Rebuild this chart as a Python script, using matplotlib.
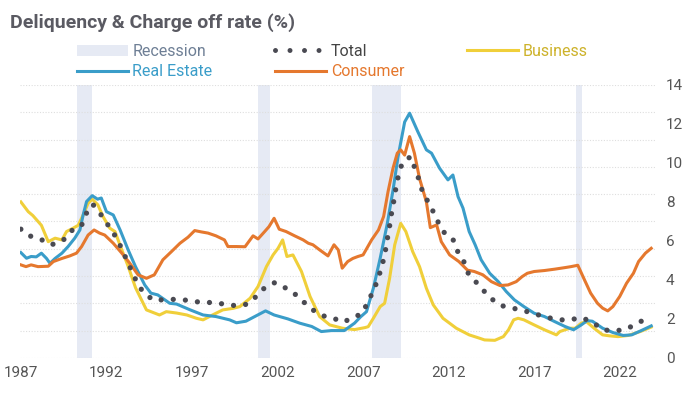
import numpy as np
import matplotlib.pyplot as plt
from matplotlib.patches import Patch
from matplotlib.lines import Line2D

plt.rcParams['font.family'] = ['Roboto', 'DejaVu Sans']

# recession periods (start, end)
recessions = [(1990.3, 1991.15), (2000.85, 2001.55), (2007.5, 2009.2), (2019.45, 2019.8)]

business_x = [1987.0, 1987.43, 1987.7, 1988.2, 1988.6, 1989.0, 1989.4, 1989.67, 1990.05, 1990.35,
              1990.64, 1990.93, 1991.17, 1991.5, 1991.8, 1992.2, 1992.5, 1992.9, 1993.27, 1993.7,
              1994.34, 1995.1, 1995.5, 1996.1, 1996.7, 1997.26, 1997.65, 1998.2, 1998.8, 1999.4,
              1999.8, 2000.4, 2000.86, 2001.35, 2001.74, 2002.03, 2002.3, 2002.55, 2002.9, 2003.4,
              2003.9, 2004.46, 2005.05, 2005.8, 2006.5, 2007.1, 2007.3, 2007.6, 2008.0, 2008.26,
              2008.55, 2008.85, 2009.2, 2009.5, 2009.9, 2010.3, 2010.7, 2011.1, 2011.67, 2012.45,
              2013.2, 2013.8, 2014.1, 2014.7, 2015.2, 2015.5, 2015.8, 2016.06, 2016.4, 2017.0,
              2017.6, 2018.3, 2018.5, 2018.8, 2019.1, 2019.4, 2019.75, 2020.05, 2020.5, 2021.0,
              2021.4, 2021.9, 2022.5, 2023.2, 2023.84]
business_y = [8.0, 7.5, 7.3, 6.8, 5.96, 6.14, 6.05, 6.48, 6.65, 6.8,
              7.33, 7.93, 8.14, 7.85, 7.25, 6.65, 6.48, 5.54, 4.7, 3.6,
              2.46, 2.2, 2.37, 2.3, 2.2, 2.03, 1.95, 2.2, 2.46, 2.54,
              2.63, 3.06, 3.66, 4.68, 5.28, 5.62, 6.05, 5.2, 5.28, 4.43,
              3.15, 2.12, 1.69, 1.52, 1.45, 1.55, 1.6, 2.03, 2.63, 2.8,
              4.08, 5.8, 6.9, 6.48, 5.45, 4.68, 3.57, 2.72, 2.03, 1.52,
              1.18, 1.01, 0.92, 0.9, 1.09, 1.44, 1.95, 2.03, 1.95, 1.69,
              1.44, 1.18, 1.35, 1.44, 1.52, 1.52, 1.78, 1.86, 1.52, 1.18,
              1.13, 1.09, 1.15, 1.35, 1.58]

realestate_x = [1987.0, 1987.33, 1987.6, 1987.9, 1988.2, 1988.5, 1988.7, 1989.0, 1989.4, 1989.76,
                1990.15, 1990.45, 1990.64, 1990.84, 1991.17, 1991.48, 1991.7, 1992.0, 1992.4, 1992.8,
                1993.27, 1993.7, 1994.24, 1994.6, 1995.0, 1995.7, 1996.1, 1996.9, 1997.65, 1998.4,
                1999.2, 1999.6, 2000.15, 2000.67, 2001.3, 2001.8, 2002.6, 2003.3, 2004.0, 2004.56,
                2005.15, 2005.9, 2006.5, 2006.85, 2007.2, 2007.6, 2008.0, 2008.4, 2008.75, 2009.04,
                2009.43, 2009.72, 2010.2, 2010.7, 2011.0, 2011.47, 2011.96, 2012.25, 2012.55, 2012.84,
                2013.2, 2013.55, 2013.9, 2014.4, 2014.9, 2015.37, 2015.85, 2016.4, 2017.0, 2017.6,
                2018.2, 2018.8, 2019.3, 2019.75, 2020.1, 2020.4, 2021.0, 2021.6, 2022.2, 2022.7,
                2023.26, 2023.84]
realestate_y = [5.4, 5.11, 5.2, 5.18, 5.37, 5.1, 4.85, 5.1, 5.37, 5.71,
                6.14, 6.56, 7.33, 8.02, 8.32, 8.14, 8.2, 7.5, 7.33, 6.56,
                5.54, 4.68, 3.74, 3.32, 3.23, 2.8, 2.76, 2.46, 2.2, 2.12,
                1.95, 1.8, 1.88, 2.12, 2.41, 2.2, 2.0, 1.78, 1.61, 1.35,
                1.4, 1.4, 1.78, 2.1, 2.37, 3.57, 5.11, 6.82, 8.6, 10.3,
                12.1, 12.55, 11.6, 10.67, 10.5, 9.73, 9.13, 9.38, 8.27, 7.68,
                6.48, 5.8, 5.03, 4.34, 3.91, 3.4, 2.97, 2.63, 2.29, 2.12,
                1.86, 1.61, 1.44, 1.69, 1.91, 1.88, 1.52, 1.3, 1.15, 1.18,
                1.4, 1.64]

consumer_x = [1987.0, 1987.3, 1987.6, 1988.0, 1988.6, 1988.9, 1989.4, 1989.86, 1990.25, 1990.55,
              1990.93, 1991.28, 1991.6, 1991.9, 1992.4, 1992.9, 1993.37, 1993.85, 1994.34, 1994.8,
              1995.3, 1995.8, 1996.3, 1996.77, 1997.16, 1997.55, 1997.94, 1998.4, 1998.9, 1999.1,
              1999.6, 2000.1, 2000.57, 2000.86, 2001.25, 2001.5, 2001.8, 2002.1, 2002.5, 2003.0,
              2003.5, 2003.8, 2004.07, 2004.46, 2004.95, 2005.3, 2005.55, 2005.78, 2006.1, 2006.4,
              2006.7, 2007.0, 2007.5, 2007.9, 2008.2, 2008.46, 2008.75, 2009.0, 2009.2, 2009.43,
              2009.72, 2010.0, 2010.3, 2010.7, 2010.93, 2011.3, 2011.57, 2012.06, 2012.6, 2013.1,
              2013.5, 2014.0, 2014.5, 2015.0, 2015.47, 2015.95, 2016.3, 2016.6, 2017.0, 2017.6,
              2018.2, 2018.8, 2019.15, 2019.55, 2019.94, 2020.3, 2020.7, 2021.0, 2021.3, 2021.6,
              2022.0, 2022.4, 2022.8, 2023.1, 2023.5, 2023.84]
consumer_y = [4.77, 4.68, 4.77, 4.68, 4.7, 4.94, 5.1, 5.23, 5.37, 5.71,
              6.3, 6.56, 6.4, 6.3, 5.88, 5.37, 4.85, 4.26, 4.08, 4.26,
              5.03, 5.45, 5.88, 6.19, 6.53, 6.46, 6.4, 6.26, 6.05, 5.71,
              5.71, 5.7, 6.26, 6.1, 6.48, 6.73, 7.16, 6.6, 6.48, 6.26,
              6.05, 5.88, 5.8, 5.54, 5.23, 5.8, 5.54, 4.6, 4.94, 5.1,
              5.2, 5.28, 6.05, 6.56, 7.25, 8.53, 9.73, 10.5, 10.67, 10.4,
              11.35, 10.5, 9.2, 8.0, 6.68, 6.82, 5.96, 5.28, 4.94, 4.5,
              4.43, 4.26, 3.91, 3.71, 3.74, 3.91, 4.17, 4.34, 4.43, 4.48,
              4.55, 4.63, 4.68, 4.75, 4.0, 3.32, 2.8, 2.55, 2.41, 2.63,
              3.15, 3.83, 4.34, 4.94, 5.37, 5.62]

total_x = [1987.0, 1987.5, 1988.15, 1988.6, 1989.0, 1989.57, 1990.1, 1990.55, 1990.8, 1991.2,
           1991.6, 1991.95, 1992.3, 1992.65, 1992.97, 1993.27, 1993.56, 1993.85, 1994.24, 1994.8,
           1995.5, 1996.2, 1996.87, 1997.55, 1998.2, 1998.95, 1999.6, 2000.2, 2000.76, 2001.25,
           2001.84, 2002.4, 2002.96, 2003.5, 2004.0, 2004.56, 2005.2, 2005.77, 2006.4, 2006.95,
           2007.3, 2007.6, 2007.9, 2008.07, 2008.26, 2008.36, 2008.5, 2008.6, 2008.7, 2008.85,
           2008.94, 2009.1, 2009.3, 2009.78, 2010.26, 2010.46, 2010.8, 2011.1, 2011.4, 2011.77,
           2012.25, 2012.5, 2012.87, 2013.1, 2013.58, 2014.0, 2014.5, 2015.08, 2015.75, 2016.44,
           2017.1, 2017.8, 2018.4, 2019.1, 2019.75, 2020.4, 2021.0, 2021.7, 2022.4, 2023.0,
           2023.65]
total_y = [6.6, 6.26, 6.1, 5.83, 5.83, 6.1, 6.65, 6.8, 7.38, 7.88,
           7.45, 6.99, 6.56, 6.05, 5.45, 4.85, 4.3, 3.74, 3.28, 2.94,
           3.0, 3.0, 2.94, 2.84, 2.84, 2.75, 2.67, 2.75, 3.15, 3.6,
           3.86, 3.62, 3.32, 2.89, 2.5, 2.17, 2.07, 1.83, 2.03, 2.3,
           2.89, 3.45, 4.08, 4.68, 5.2, 5.83, 6.48, 7.03, 7.64, 8.27,
           8.87, 9.47, 10.03, 10.32, 9.16, 8.56, 8.0, 7.5, 6.94, 6.39,
           6.09, 5.5, 4.99, 4.39, 3.91, 3.49, 3.03, 2.68, 2.55, 2.41,
           2.24, 2.07, 1.95, 1.95, 2.07, 1.84, 1.44, 1.38, 1.47, 1.78,
           2.03]

year_ticks = [1987, 1992, 1997, 2002, 2007, 2012, 2017, 2022]
value_ticks = [0, 2, 4, 6, 8, 10, 12, 14]

c_rec = '#E6EAF4'
c_total = '#4A4A52'
c_bus = '#F0CF3A'
c_re = '#3A9DC9'
c_con = '#E5782E'
dot_style = (0, (0.001, 2.3))

fig = plt.figure(figsize=(6.9, 3.95), dpi=100)
ax = fig.add_axes([0.029, 0.094, 0.920, 0.691])

for s, e in recessions:
    ax.axvspan(s, e, color=c_rec, lw=0, zorder=0)

for g in np.linspace(0, 14, 11):
    ax.axhline(g, color='#DEDEDE', lw=0.8, ls=(0, (1, 1.5)), zorder=0.5)

ax.plot(business_x, business_y, color=c_bus, lw=2.2, zorder=2)
ax.plot(realestate_x, realestate_y, color=c_re, lw=2.2, zorder=3)
ax.plot(consumer_x, consumer_y, color=c_con, lw=2.2, zorder=4)
ax.plot(total_x, total_y, color=c_total, lw=3.8, ls=dot_style,
        dash_capstyle='round', zorder=5)

ax.set_xlim(1986.95, 2024.05)
ax.set_ylim(0, 14)
ax.yaxis.tick_right()
ax.set_yticks(value_ticks)
ax.set_xticks(year_ticks)
ax.tick_params(axis='both', length=0, labelsize=11, colors='#555555')
ax.tick_params(axis='y', pad=8)
ax.tick_params(axis='x', pad=6)
for sp in ax.spines.values():
    sp.set_visible(False)

fig.text(0.014, 0.944, 'Deliquency & Charge off rate (%)', fontsize=14,
         fontweight='bold', color='#5A5A62', va='center')

handles = [Patch(facecolor=c_rec, edgecolor='none'),
           Line2D([], [], color=c_re, lw=2.2),
           Line2D([], [], color=c_total, lw=3.6, ls=(0, (0.001, 2.9)), dash_capstyle='round'),
           Line2D([], [], color=c_con, lw=2.2),
           Line2D([], [], color=c_bus, lw=2.2)]
labels = ['Recession', 'Real Estate', 'Total', 'Consumer', 'Business']
text_colors = ['#6E7F95', c_re, '#444444', c_con, '#CDB22A']
leg = fig.legend(handles, labels, ncol=3, loc='upper left', bbox_to_anchor=(0.111, 0.889),
                 frameon=False, fontsize=11.5, handlelength=3.2, handletextpad=0.3,
                 columnspacing=3.9, labelspacing=0.35, borderpad=0, borderaxespad=0)
for t, c in zip(leg.get_texts(), text_colors):
    t.set_color(c)

fig.savefig('out.png', dpi=100)
